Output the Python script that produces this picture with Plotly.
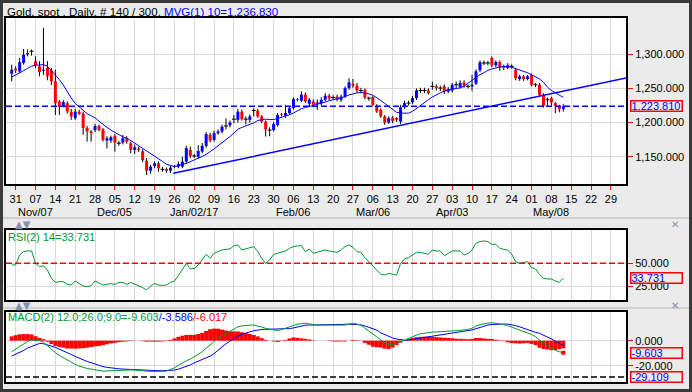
import plotly.graph_objects as go

W, H = 692, 392

# ---------------- data ----------------
opens = [1271.6,1279,1275,1287.3,1300,1304.5,1289.8,1282.4,1276,1280,
1276.5,1260.4,1231,1224,1228.5,1216,1206.5,1216,1213,1192,
1187,1189,1195,1190,1173.6,1173.6,1180.5,1169.7,1170.7,1177,
1169.7,1160,1162,1158,1144,1129.5,1136.4,1140.3,1131.5,1132,
1129.5,1136,1135.4,1135.4,1142.8,1160,1151,1150,1157.5,1165.8,
1182,1174.6,1184.4,1186.8,1195,1196,1205,1204,1216,1205,
1204,1217.7,1217.7,1209,1201.5,1189,1189,1196.6,1212,1210,
1214,1221,1234.4,1232,1241,1227.5,1231,1228.5,1228.5,1233.4,
1239.3,1236.8,1238,1233.4,1238.3,1250.5,1256.5,1254,1247,1248,
1235.8,1237.3,1224.6,1218.7,1209,1200,1207.4,1206.5,1201.5,1222.6,
1228.5,1229.5,1235.8,1247,1247,1247,1253,1253,1250.5,1253,
1245.6,1247,1255.4,1252,1258.9,1253,1253,1257,1276.5,1287.3,
1287.3,1294.6,1283.9,1288.8,1282.4,1280,1282.4,1277.5,1263.8,1267.7,
1263.8,1270,1255.4,1255.4,1240.7,1233.4,1235.8,1228.5,1224.6,1219.7]
highs = [1284.9,1282.4,1294.6,1307.9,1307,1307,1297,1289.8,1338.8,1290,
1280,1277.5,1233,1233,1231,1220,1220,1219,1216,1195,
1189,1198,1197,1192,1180,1181,1183,1173,1182,1180,
1172,1168,1165,1161,1148,1138,1143,1143,1135,1134,
1137,1138,1143,1150,1166,1165,1154,1167,1170,1186,
1185,1188,1190,1197,1206,1203,1211,1220,1219,1209,
1212,1221,1220,1211,1203,1193,1201,1214,1214,1226,
1224,1237,1236,1245.6,1244,1236,1234,1234,1237,1243,
1242,1240,1241,1241,1253,1265,1263.8,1258,1251,1250,
1238,1239,1227,1221,1211,1209,1210,1208,1226,1232,
1232,1239,1250,1251,1251,1250,1260,1256,1254,1256,
1252,1258,1260,1262,1262,1256,1270,1278,1291,1291,
1290,1297,1291,1291,1285,1287,1285,1280,1270,1270,
1270,1272,1258,1258,1243,1237,1238,1230,1226,1227]
lows = [1260.4,1272.6,1272.6,1285,1297,1298,1280,1267.7,1270,1262,
1255,1211,1211,1222.6,1213,1204,1204,1211,1182,1172,
1172,1186,1187,1172,1162,1170,1157.5,1166,1168,1169,
1155,1154,1157,1142,1123,1125,1133,1128,1128,1126,
1126,1133,1133,1133,1140,1148,1148,1147,1155,1163,
1171,1172,1182,1184,1190,1193,1199,1200,1203,1197,
1200,1209,1207,1199,1179.5,1180,1187,1194,1209,1207,
1212,1219,1231,1230,1229,1223,1223,1218.7,1225,1231,
1233,1234,1231,1230,1236,1248,1251,1244,1243,1234,
1232,1224,1214,1207,1196.6,1198,1199,1201,1198,1220,
1225,1227,1233,1243,1243,1241,1248,1247,1246,1242,
1243,1244,1250,1250,1251,1250,1246,1255,1274,1284,
1284,1281,1281,1276,1277,1278,1279,1262,1261,1261,
1262,1253,1252,1238,1222,1224.6,1225,1213.8,1215,1216]
closes = [1277.5,1276.5,1288.3,1299.5,1302,1304.5,1283.9,1274,1277.5,1268,
1260.4,1228.5,1222.6,1230,1216.3,1209,1216,1213,1192,1187,
1184.4,1195,1189,1174.6,1177,1178.5,1170.7,1169.7,1177,1172,
1160,1163.8,1160,1145,1129.5,1135.4,1140.3,1133,1131.5,1129.5,
1134,1135,1139.3,1142.8,1162.4,1151,1151,1158.4,1165.8,1183,
1173.6,1184.4,1186.8,1194,1195,1200,1205,1216,1205,1205,
1209,1217.7,1209,1201.5,1190,1189,1198,1211,1211,1214,
1221,1234.4,1233.4,1241,1231,1233.4,1226,1228.5,1233.4,1239.3,
1235.4,1236.8,1233.4,1238,1250.5,1259,1254,1247,1247,1236.8,
1235.8,1226,1216.3,1209,1200,1206.5,1202.5,1204,1222.6,1228.5,
1228.5,1235.8,1247,1247,1247,1243,1253,1250.5,1250.5,1245.6,
1249,1255.4,1255.4,1258,1254,1253,1255.4,1275,1288.3,1287.3,
1287.3,1283.9,1288.8,1280,1280,1283.9,1282.4,1265,1267.7,1263.8,
1267.7,1255.4,1255.4,1240.7,1224.6,1233.4,1229.5,1224.6,1219.7,1223.81]
ma10 = [1266.7,1269.5,1272.6,1276,1279.6,1282.5,1284,1284.5,1284.9,1282.6,
1276.5,1270,1263,1255,1245,1236,1228,1223,1217,1213,
1210,1207,1202,1197,1193,1189,1185.5,1182,1179,1177,
1174,1170,1166,1162.4,1158.5,1154.5,1151,1147,1143,1139,
1137,1135.6,1136.5,1139,1140,1142.5,1144.5,1147.5,1150.5,1153.5,
1157,1161.5,1166,1170,1175,1179.5,1184.5,1190,1193,1195,
1196.6,1199.5,1203,1204.5,1205,1204.5,1204.5,1206,1207.5,1209,
1211.5,1214,1217,1220.5,1222,1223.5,1224.6,1226,1228,1230,
1232,1233.5,1234.5,1235.5,1238,1240.5,1242.2,1243.5,1244.2,1243.5,
1242,1240,1236.5,1232.5,1228,1224,1219.5,1215,1213.8,1213.8,
1213.8,1216.5,1221,1225,1229.5,1233.5,1237.5,1241,1243.5,1246,
1248,1249,1250,1250.8,1253.5,1257.5,1262,1266.5,1270.2,1273,
1276.5,1278.5,1280.5,1281.5,1282,1282.4,1281,1279,1277.5,1275.5,
1273,1270,1267,1264,1259,1252,1247,1244,1240.5,1236.83]
rsi14 = [48.2,48.2,59.2,62.9,63.6,63.6,50,46.3,47.4,42.6,
33.5,29,29.8,29.8,26.8,26.1,30.5,27.9,25,24.3,
25.4,30.5,27.9,26.1,26.8,27.6,26.8,29,29,26.8,
29,27.2,25,23.2,20.6,25,27.9,26.1,25.7,26.1,
29,30.5,36.4,43.8,50,43.8,44.5,48.2,53.7,59.9,
55.5,61,62.9,64.7,65.4,65.8,69.5,70.2,64.7,65.8,
67.3,68.4,62.9,55.5,50,53.7,59.9,61,61.8,63.6,
66.5,68.4,69.1,69.5,62.9,65.8,61,62.1,63.6,64.7,
63.6,62.9,62.1,64.7,68.4,70.2,67.6,62.9,62.1,56.3,
51.8,47.4,42.6,37.9,37.1,39,37.9,37.1,50,54.8,
56.3,59.2,62.1,62.1,61,59.9,64.7,63.6,63.6,58.5,
61,63.6,63.6,63.6,59.2,60.7,64.7,72.1,73.9,74.6,
73.9,71,71,66.5,65.4,64.7,59.9,51.8,50,51.1,
51.8,45.2,43.8,37.9,33.5,32.7,32.7,30.5,29,33.731]
macd_line = [-8.8,-6.6,-4.5,-2.5,-0.6,0.5,0.3,0,-1.2,-4,
-7,-9.6,-11.7,-13.6,-15.7,-17.3,-19,-20.3,-21.5,-22.2,
-22.7,-23.3,-24.1,-24.3,-24.2,-24,-23.9,-23.7,-23.5,-23.5,
-23.4,-23.5,-23.5,-24,-24.5,-24.6,-24.8,-24.7,-24.6,-24.3,
-23.2,-21.7,-19.7,-17.8,-16.1,-14.7,-13,-11,-8.8,-6,
-3.2,-0.6,2,4,5.7,7.2,9.3,11.1,11.8,12.4,
12.5,12.5,12,11,9.8,9.1,8.5,8.1,8.9,10,
11.5,12.8,13.3,13.6,13.9,13.5,12.8,12.5,12.5,12.5,
12.3,12.1,12.1,12.3,12.5,13.3,13.9,13.3,12.5,10,
7.6,5,3.2,0.8,-1.6,-3.2,-3.3,-2.2,-0.8,0.4,
1.8,3.4,4.5,5.5,6.1,6.6,6.9,7,7.1,7.3,
7.6,7.8,8,8.3,8.6,9,10,11.8,12.8,13.6,
14,14.4,14.1,13.6,12.9,12,10.9,9.9,8.8,7.8,
6.6,5,3.2,0.3,-2.1,-4,-6.2,-7.8,-8.8,-9.603]
signal_line = [-12.3,-11,-9.6,-7.8,-5.9,-4.5,-3.3,-2.2,-2.4,-3.1,
-4.3,-5.4,-6.7,-8,-9.4,-11,-12.6,-14.1,-15.5,-16.6,
-17.6,-18.8,-19.9,-20.7,-21.3,-21.9,-22.2,-22.5,-22.7,-22.9,
-23.1,-23.3,-23.5,-23.6,-23.7,-23.9,-24,-24,-24,-24,
-23.8,-23.5,-22.8,-21.8,-20.7,-19.4,-17.7,-16.4,-15.1,-13.8,
-12.4,-10.3,-7.6,-4.9,-2.4,-0.3,1.9,3.7,5,6.3,
7.1,8,8.6,9,9.1,9.1,9.1,9.1,9.2,9.4,
9.7,10.2,11,11.7,12.4,12.5,12.5,12.5,12.5,12.5,
12.6,12.7,12.8,12.9,13.1,13.3,13.3,13,12.7,11.8,
10.8,9.8,8.5,6.3,4.8,3.4,2.2,1.3,0.7,0.4,
0.6,1.1,1.7,2.4,2.9,3.4,3.8,4.2,4.5,4.9,
5.4,5.8,6.4,6.8,7.3,7.8,8.6,9.6,10.7,11.8,
12.5,13,13.3,13.3,13.3,13.3,12.8,12,11.1,9.9,
8.5,7.6,6.7,5.9,4.5,3,1.4,-0.4,-2,-3.586]

trend_x = [40.7, 154.8]          # trend line end points (bar index, price)
trend_y = [1125.6, 1265.5]
last_price = 1223.81
ma_last = 1236.83
rsi_mid = 50
macd_low = -29.109

day_labels = ['31','07','14','21','28','05','12','19','26','02','09','16','23','30',
              '06','13','20','27','06','13','20','27','03','10','17','24','01','08',
              '15','22','29']
month_labels = ['Nov/07','Dec/05','Jan/02/17','Feb/06','Mar/06','Apr/03','May/08']
month_tick_index = [1, 5, 9, 14, 18, 22, 27]
price_ticks = [1150, 1200, 1250, 1300]
rsi_ticks = [25, 50]
macd_ticks = [-20, 0]

# ---------------- derived ----------------
n = len(closes)
xs = list(range(n))
tickvals = [1 + 5 * i for i in range(len(day_labels))]
hist = [m - s for m, s in zip(macd_line, signal_line)]

BLUE = '#0000ff'
RED = '#ff0000'
GREEN = '#009933'
FONT = 'Liberation Sans, Arial, sans-serif'
BG = '#ebebeb'

def px(x):
    return x / W

def py(y):
    return 1 - y / H

fig = go.Figure()

# wicks
wx, wy = [], []
for i in xs:
    wx += [i, i, None]
    wy += [lows[i], highs[i], None]
fig.add_trace(go.Scatter(x=wx, y=wy, mode='lines', line=dict(color='black', width=1),
                         hoverinfo='skip', xaxis='x', yaxis='y'))
# bodies
ux, uy, dx, dy, jx, jy = [], [], [], [], [], []
for i in xs:
    o, c = opens[i], closes[i]
    if c > o:
        ux += [i, i, None]; uy += [o, c, None]
    elif c < o:
        dx += [i, i, None]; dy += [o, c, None]
    else:
        jx += [i - 0.5, i + 0.5, None]; jy += [o, o, None]
fig.add_trace(go.Scatter(x=ux, y=uy, mode='lines', line=dict(color=BLUE, width=3),
                         hoverinfo='skip', xaxis='x', yaxis='y'))
fig.add_trace(go.Scatter(x=dx, y=dy, mode='lines', line=dict(color=RED, width=3),
                         hoverinfo='skip', xaxis='x', yaxis='y'))
fig.add_trace(go.Scatter(x=jx, y=jy, mode='lines', line=dict(color='black', width=1),
                         hoverinfo='skip', xaxis='x', yaxis='y'))
# moving average
fig.add_trace(go.Scatter(x=xs, y=ma10, mode='lines', line=dict(color=BLUE, width=1),
                         hoverinfo='skip', xaxis='x', yaxis='y'))
# trend line
fig.add_trace(go.Scatter(x=trend_x, y=trend_y, mode='lines', line=dict(color=BLUE, width=1.5),
                         hoverinfo='skip', xaxis='x', yaxis='y'))

# RSI
fig.add_trace(go.Scatter(x=xs, y=rsi14, mode='lines', line=dict(color=GREEN, width=1),
                         hoverinfo='skip', xaxis='x2', yaxis='y2'))

# MACD
fig.add_trace(go.Bar(x=xs, y=hist, width=1.0, marker=dict(color=RED, line=dict(width=0)),
                     hoverinfo='skip', xaxis='x3', yaxis='y3'))
fig.add_trace(go.Scatter(x=xs, y=signal_line, mode='lines', line=dict(color=BLUE, width=1),
                         hoverinfo='skip', xaxis='x3', yaxis='y3'))
fig.add_trace(go.Scatter(x=xs, y=macd_line, mode='lines', line=dict(color=GREEN, width=1),
                         hoverinfo='skip', xaxis='x3', yaxis='y3'))
fig.add_trace(go.Scatter(x=[xs[-1]], y=[macd_line[-1]], mode='markers',
                         marker=dict(color=RED, size=4, symbol='square'),
                         hoverinfo='skip', xaxis='x3', yaxis='y3'))

xr = [-1.44, 154.8]
xdom = [px(6), px(626)]
grid = '#d9d9d9'
common_x = dict(range=xr, domain=xdom, tickvals=tickvals, showgrid=True, gridcolor=grid,
                gridwidth=1, showline=True, linecolor='black', linewidth=2, mirror=True,
                zeroline=False, fixedrange=True)
common_y = dict(side='right', showline=True, linecolor='black', linewidth=2, mirror=True,
                zeroline=False, ticks='outside', tickcolor=RED, ticklen=5, tickwidth=1,
                tickfont=dict(family=FONT, size=11, color='black'), showgrid=True,
                gridcolor=grid, fixedrange=True)

fig.update_layout(
    width=W, height=H, autosize=False,
    margin=dict(l=0, r=0, t=0, b=0),
    paper_bgcolor=BG, plot_bgcolor='white',
    showlegend=False, hovermode=False, barmode='overlay',
    font=dict(family=FONT, size=11, color='black'),
    xaxis=dict(common_x, anchor='y', ticktext=day_labels, ticks='outside', tickcolor=RED,
               ticklen=4, tickfont=dict(family=FONT, size=11, color='black')),
    yaxis=dict(common_y, anchor='x', domain=[py(184), py(18)], range=[1110, 1353.2],
               tickvals=price_ticks,
               ticktext=['{:,.3f}'.format(v) for v in price_ticks]),
    xaxis2=dict(common_x, anchor='y2', matches='x', showticklabels=False, ticks=''),
    yaxis2=dict(common_y, anchor='x2', domain=[py(300), py(230)], range=[9.6, 86.7],
                tickvals=rsi_ticks, ticktext=['{:.3f}'.format(v) for v in rsi_ticks]),
    xaxis3=dict(common_x, anchor='y3', matches='x', showticklabels=False, ticks=''),
    yaxis3=dict(common_y, anchor='x3', domain=[py(382), py(312)], range=[-33.04, 22.96],
                tickvals=macd_ticks, ticktext=['{:.3f}'.format(v) for v in macd_ticks]),
)

shapes = []
# horizontal reference lines
shapes.append(dict(type='line', xref='x domain', yref='y', x0=0, x1=1, y0=last_price, y1=last_price,
                   line=dict(color=BLUE, width=1.5, dash='6px,3px')))
shapes.append(dict(type='line', xref='x2 domain', yref='y2', x0=0, x1=1, y0=rsi_mid, y1=rsi_mid,
                   line=dict(color=RED, width=1.5, dash='6px,3px')))
shapes.append(dict(type='line', xref='x3 domain', yref='y3', x0=0, x1=1, y0=macd_low, y1=macd_low,
                   line=dict(color='black', width=1.5, dash='6px,3px')))
# separators between panels
for ys in (218, 308):
    shapes.append(dict(type='line', xref='paper', yref='paper', x0=0, x1=1, y0=py(ys), y1=py(ys),
                       line=dict(color='#b4b4b4', width=1), layer='below'))
# outer dark frame
shapes.append(dict(type='rect', xref='paper', yref='paper', x0=0, x1=1, y0=0, y1=1,
                   line=dict(color='#3a3a3a', width=6), fillcolor='rgba(0,0,0,0)'))

annotations = []
# header
annotations.append(dict(xref='paper', yref='paper', x=px(5), y=py(12), xanchor='left', yanchor='middle',
                        showarrow=False, font=dict(family=FONT, size=11.5, color='black'),
                        text='Gold, spot , Daily, # 140 / 300, <span style="color:#0000ff">MVG(1) 10={:,.3f}</span>'.format(ma_last)))
annotations.append(dict(xref='paper', yref='paper', x=px(6), y=py(237), xanchor='left', yanchor='middle',
                        showarrow=False, font=dict(family=FONT, size=11, color=GREEN),
                        text='RSI(2) 14={:.3f}'.format(rsi14[-1])))
annotations.append(dict(xref='paper', yref='paper', x=px(6), y=py(317), xanchor='left', yanchor='middle',
                        showarrow=False, font=dict(family=FONT, size=11, color=GREEN),
                        text='MACD(2) 12.0;26.0;9.0={:.3f}<span style="color:#0000ff">/{:.3f}</span><span style="color:#ff0000">/{:.3f}</span>'.format(
                            macd_line[-1], signal_line[-1], hist[-1])))
# month labels
for lab, ti in zip(month_labels, month_tick_index):
    annotations.append(dict(xref='x', yref='paper', x=tickvals[ti], y=py(212), xanchor='center',
                            yanchor='middle', showarrow=False,
                            font=dict(family=FONT, size=11, color='black'), text=lab))
# value boxes
def vbox(yref, yval, text):
    return dict(xref='paper', yref=yref, x=px(629.5), y=yval, xanchor='left', yanchor='middle',
                showarrow=False, text=text, align='left', width=50, height=9, borderpad=0,
                bordercolor=RED, borderwidth=1.5, bgcolor=BG,
                font=dict(family=FONT, size=11, color=BLUE))
annotations.append(vbox('y', last_price, '{:,.3f}'.format(last_price)))
annotations.append(vbox('y2', rsi14[-1], '{:.3f}'.format(rsi14[-1])))
annotations.append(vbox('y3', macd_line[-1], '{:.3f}'.format(macd_line[-1])))
annotations.append(vbox('y3', macd_low, '{:.3f}'.format(macd_low)))
# panel controls
for yy in (224, 305):
    annotations.append(dict(xref='paper', yref='paper', x=px(13), y=py(yy), xanchor='left', yanchor='middle',
                            showarrow=False, text='▲▼', font=dict(family='DejaVu Sans', size=10, color='#8391ad')))
    annotations.append(dict(xref='paper', yref='paper', x=px(675), y=py(yy), xanchor='center', yanchor='middle',
                            showarrow=False, text='✕', font=dict(family='DejaVu Sans', size=10, color='#8391ad')))

fig.update_layout(shapes=shapes, annotations=annotations)
fig.write_html('out.html', config={'displayModeBar': False, 'staticPlot': True},
               post_script="document.body.style.margin='0';document.body.style.padding='0';document.body.style.overflow='hidden';")
